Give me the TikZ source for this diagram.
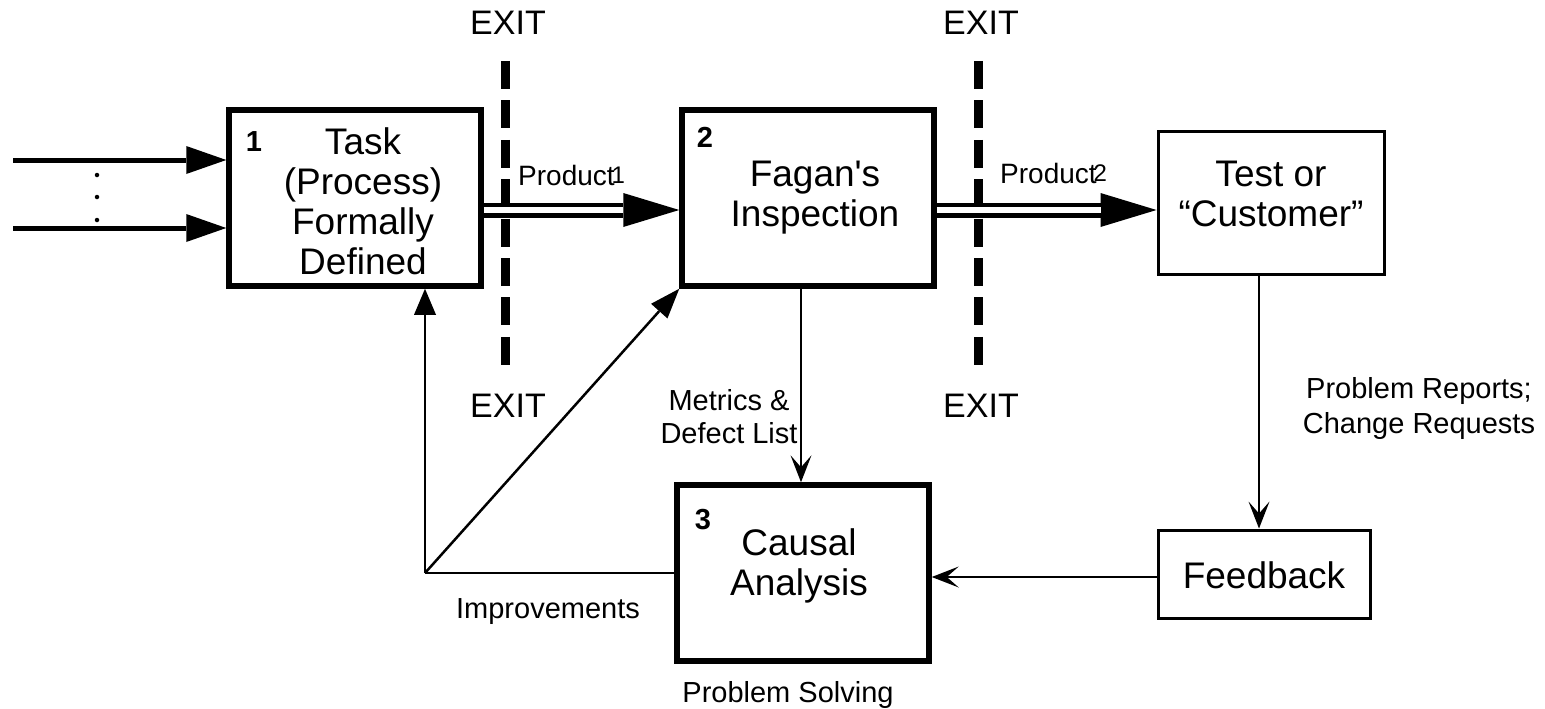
\documentclass[tikz,border=0pt]{standalone}
\usepackage{fontspec}
\setmainfont{Liberation Sans}
\newfontfamily\plainfont{Liberation Sans}[Ligatures=TeXOff]
\usetikzlibrary{arrows.meta}
\begin{document}
\begin{tikzpicture}[x=1pt,y=-1pt,
  thickbox/.style={draw, line width=5.5pt, minimum width=252pt, minimum height=176pt, inner sep=0pt},
  thinbox/.style={draw, line width=3pt, inner sep=0pt},
  boxtext/.style={font=\fontsize{37}{40}\selectfont, align=center, inner sep=0pt},
  numtext/.style={font=\fontsize{29}{29}\selectfont\bfseries, inner sep=0pt, anchor=base},
  lbl/.style={font=\fontsize{29}{34}\selectfont, align=center, inner sep=0pt},
  exittext/.style={font=\fontsize{34}{34}\selectfont, inner sep=0pt, anchor=base},
  exitline/.style={line width=9pt, dash pattern=on 28pt off 11.4pt},
  inarrow/.style={line width=5pt, -{Triangle[length=40pt,width=28pt,line width=0pt]}},
  prod/.style={line width=15pt, -{Triangle[length=56pt,width=34pt,line width=0pt]}},
  prodgap/.style={white, line width=5.5pt, shorten >=56pt},
  fbarrow/.style={line width=2.5pt, -{Stealth[length=27pt,width=21pt,inset=12pt,line width=0pt]}},
  imparrow/.style={line width=2.5pt, -{Triangle[length=26pt,width=22pt,line width=0pt]}},
  plainline/.style={line width=2.5pt},
  dotnode/.style={circle, fill, inner sep=0pt, minimum size=4.5pt}]
\useasboundingbox (0,0) rectangle (1545,709);

% boxes
\node[thickbox] (b1) at (355,198) {};
\node[thickbox] (b2) at (808,198) {};
\node[thickbox] (c) at (803,573) {};
\node[thinbox, minimum width=226pt, minimum height=143pt] (t) at (1271,202.5) {};
\node[thinbox, minimum width=212pt, minimum height=88pt] (f) at (1264,574) {};

% box texts
\node[boxtext] (b1t) at (363,201.5) {Task\\(Process)\\Formally\\Defined};
\node[boxtext] (b2t) at (815,197.6) {{\plainfont Fagan's}\\Inspection};
\node[boxtext] (tt) at (1271,194.3) {Test or\\“Customer”};
\node[boxtext] (ct) at (799,566) {Causal\\Analysis};
\node[boxtext, anchor=base] (ft) at (1264,588) {Feedback};

% numbers
\node[numtext] (n1) at (254,151) {1};
\node[numtext] (n2) at (705,147) {2};
\node[numtext] (n3) at (703,529) {3};

% inputs
\coordinate (in1) at (13,160);
\coordinate (in2) at (13,228);
\draw[inarrow] (in1) -- (b1.west |- in1);
\draw[inarrow] (in2) -- (b1.west |- in2);
\node[dotnode] (d1) at (97,175) {};
\node[dotnode] (d2) at (97,197) {};
\node[dotnode] (d3) at (97,220) {};

% exit lines
\coordinate (e1a) at (505,61);
\coordinate (e1b) at (505,365);
\coordinate (e2a) at (978,61);
\coordinate (e2b) at (978,365);
\draw[exitline] (e1a) -- (e1b);
\draw[exitline] (e2a) -- (e2b);
\node[exittext] (x1) at (508,35) {EXIT};
\node[exittext] (x2) at (508,417) {EXIT};
\node[exittext] (x3) at (981,35) {EXIT};
\node[exittext] (x4) at (981,417) {EXIT};

% product arrows
\coordinate (py) at (0,210);
\draw[prod] (b1.east |- py) -- (b2.west |- py);
\draw[prodgap] (b1.east |- py) -- (b2.west |- py);
\draw[prod] (b2.east |- py) -- (t.west |- py);
\draw[prodgap] (b2.east |- py) -- (t.west |- py);
\node[font=\fontsize{28}{28}\selectfont, inner sep=0pt, anchor=base west] (pl1) at (518,185) {Product\kern-3pt\raisebox{2pt}{\fontsize{24}{24}\selectfont 1}};
\node[font=\fontsize{28}{28}\selectfont, inner sep=0pt, anchor=base west] (pl2) at (1000,183) {Product\kern-3pt\raisebox{2pt}{\fontsize{24}{24}\selectfont 2}};

% metrics arrow
\coordinate (mx) at (801,0);
\draw[fbarrow] (mx |- b2.south) -- (mx |- c.north);
\node[lbl, font=\fontsize{29}{33}\selectfont] (ml) at (729,417) {Metrics \&\\Defect List};

% test -> feedback
\coordinate (tx) at (1259,0);
\draw[fbarrow] (tx |- t.south) -- (tx |- f.north);
\node[lbl, font=\fontsize{29}{35}\selectfont] (pr) at (1419,408) {Problem Reports;\\Change Requests};

% feedback -> causal
\coordinate (fy) at (0,577);
\draw[fbarrow] (f.west |- fy) -- (c.east |- fy);

% improvements
\coordinate (J) at (425,573);
\draw[plainline] (J -| c.west) -- (J);
\draw[imparrow] (J) -- (J |- b1.south);
\draw[imparrow, -{Triangle[length=30pt,width=22pt,line width=0pt]}] (J) -- (b2.south west);
\node[lbl, anchor=base] (il) at (548,618) {Improvements};
\node[lbl, anchor=base] (ps) at (788,702) {Problem Solving};
\end{tikzpicture}
\end{document}
